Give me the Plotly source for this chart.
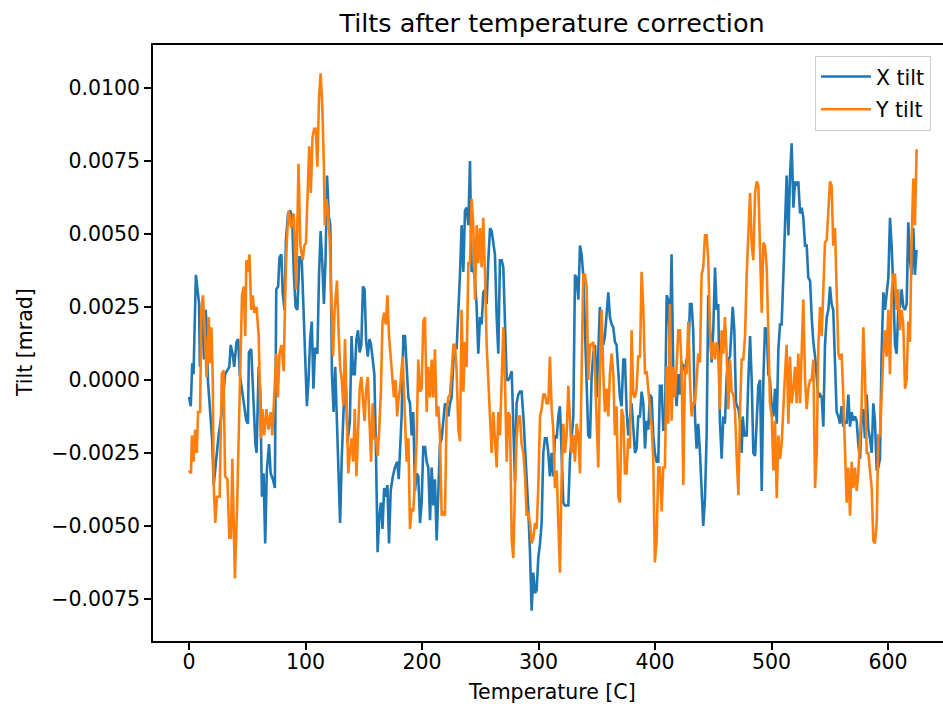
import plotly.graph_objects as go

# ---------------- data ----------------
x_temp = [0, 1.5, 2.8, 3.9, 5.9, 8.7, 9.3, 10.1, 11.5, 12.9, 14.3, 15.1, 16.2, 18.4, 19.8, 21.2, 23.5, 25.4, 28.2, 31,
          34.6, 35.8, 37.4, 38.8, 40.8, 42.2, 43.6, 46.4, 49.2, 50.6, 51.4, 53.4, 55.3, 57, 58, 59.8, 61.2, 62.6, 64, 65.4,
          66.8, 68.7, 70.1, 72, 73.7, 74.9, 76.5, 77.7, 79.3, 80.4, 82, 83.2, 85, 86.9, 88.5, 90, 91.5, 93, 94.8, 96.7,
          98.4, 99.8, 101.2, 102.6, 104, 105.4, 106.8, 108.2, 110.2, 111.6, 113, 114.4, 115.8, 117.2, 118.5, 120, 121.3, 122.7, 124.1, 125.5,
          126.9, 128.3, 129.7, 131.1, 133.1, 134.8, 136.2, 138.1, 139.5, 140.9, 142.3, 143.7, 145.1, 146.5, 147.9, 149.3, 150.7, 152.1, 153.5, 154.9,
          156.3, 157.7, 159.1, 160.5, 161.9, 163.3, 164.7, 166.1, 167.5, 168.9, 170.3, 171.7, 173.1, 175, 176.7, 178.7, 180, 182.5, 184, 185.4,
          186.8, 188.3, 189.7, 191.1, 192.5, 194, 195.4, 196.8, 198.3, 199.7, 201.1, 202.6, 204, 205.4, 206.9, 208.3, 209.7, 211.1, 212.6, 214,
          215.4, 216.9, 218.3, 219.7, 221.2, 222.6, 224, 225.4, 226.9, 228.3, 229.7, 231.2, 232.6, 234, 235.5, 236.9, 238.3, 239.8, 241.2, 242.6,
          244, 245.5, 246.9, 248.3, 249.8, 251.2, 252.6, 254.1, 255.5, 256.9, 258.4, 259.8, 261.2, 262.6, 264.1, 265.5, 266.9, 268.4, 269.8, 271.2,
          272.7, 274.1, 275.5, 277, 278.4, 279.8, 281.2, 282.7, 284.1, 285.5, 287, 288.4, 289.8, 291.2, 292.7, 294.1, 295.5, 297, 298.4, 299.8,
          301.3, 302.7, 304.1, 305.5, 307, 308.4, 309.8, 311.3, 312.7, 314.1, 315.6, 317, 318.4, 319.8, 321.3, 322.7, 324.1, 325.6, 327, 328.4,
          329.9, 331.3, 332.7, 334.2, 335.6, 337, 338.4, 339.9, 341.3, 342.7, 344.2, 345.6, 347, 348.5, 349.9, 351.3, 352.7, 354.2, 355.6, 357,
          358.5, 359.9, 361.3, 362.8, 364.2, 365.6, 367, 368.5, 369.9, 371.3, 372.8, 374.2, 375.6, 377, 378.5, 379.9, 381.3, 382.8, 384.2, 385.6,
          387.1, 388.5, 390, 391.4, 392.8, 394.2, 395.7, 397.1, 398.5, 399.9, 401.4, 402.8, 404.2, 405.7, 407.1, 408.5, 410, 411.4, 412.8, 414.2,
          415.7, 417.1, 418.5, 420, 421.4, 422.8, 424.3, 425.7, 427.1, 428.6, 430, 431.4, 432.8, 434.3, 435.7, 437.1, 438.6, 440, 441.4, 442.9,
          444.3, 445.7, 447.2, 448.6, 450, 451.5, 452.9, 454.3, 455.7, 457.2, 458.6, 460, 461.5, 462.9, 464.4, 466.7, 468.1, 469.5, 471.6, 473,
          474.4, 475.3, 476.7, 478.7, 480.1, 481.6, 483, 484.4, 485.9, 487.3, 488.7, 490.2, 491.6, 493, 494.4, 495.9, 497.3, 498.7, 500.2, 501.6,
          503, 504.5, 505.9, 507.3, 508.7, 510.2, 511.6, 513, 514.5, 515.9, 517.3, 518.8, 520.2, 521.6, 523, 524.5, 525.9, 527.3, 528.8, 530.2,
          531.6, 533.1, 534.5, 535.9, 537.4, 538.8, 540.2, 541.7, 543.1, 544.5, 545.9, 547.4, 548.8, 550.2, 551.6, 553, 554.5, 555.9, 557.4, 558.8,
          560.2, 561.6, 563.1, 564.5, 565.9, 567.4, 568.8, 570.2, 571.7, 573.1, 574.5, 576, 577.4, 578.8, 580.2, 581.7, 583.1, 584.5, 586, 587.4,
          588.8, 590.3, 591.7, 593.1, 594.5, 596, 597.4, 598.8, 600.3, 601.7, 603.1, 604.6, 606, 607.4, 608.8, 610.3, 611.7, 613.1, 614.6, 616,
          617.4, 618.8, 620.3, 621.7, 623.1, 624.5]
x_tilt = [-0.00058, -0.0009, 0.00057, 0.0002, 0.0036, 0.0026, 0.00045, 0.0024, 0.00215, 0.0007, 0.0024, 0.0019, 0.0, -0.0013, -0.002, -0.0036, -0.0025, -0.0019, -0.0011, 0.0002,
          0.00045, 0.0012, 0.0009, 0.00045, 0.0013, 0.0014, 0.0002, -0.00064, -0.0014, -0.0015, 0.00094, 0.00106, -0.00064, -0.0022, -0.0025, 0.00045, -0.0004, -0.004, -0.0032, -0.0056,
          -0.0031, -0.0022, -0.0032, -0.0034, -0.0037, 0.0031, 0.0032, 0.0042, 0.0043, 0.003, 0.0024, 0.0048, 0.0057, 0.0058, 0.0056, 0.0036, 0.0025, 0.0024, 0.0042, 0.0042,
          0.0023, 0.0007, -0.0009, 0.0, 0.0014, 0.002, -0.0003, 0.0011, 0.0009, 0.0036, 0.0051, 0.004, 0.0026, 0.0041, 0.007, 0.0056, 0.0053, 0.0002, -0.0011, 0.00045,
          -0.0011, -0.003, -0.0049, -0.0027, -0.0006, -0.0003, -0.0021, -0.0014, 0.0015, 0.0002, 0.0002, 0.0014, 0.0017, 0.00094, 0.0012, 0.0032, 0.0031, 0.0013, 0.0008, 0.0014,
          0.0012, 0.0007, 0.0002, -0.0025, -0.0059, -0.0047, -0.0042, -0.0051, -0.0037, -0.004, -0.0036, -0.0056, -0.0038, -0.0033, -0.003, -0.0028, -0.0034, -0.00125, 0.0015, 0.0015,
          0.0002, -0.0006, -0.0008, -0.0019, -0.0011, -0.0038, -0.0032, -0.0033, -0.0049, -0.0042, -0.0023, -0.0023, -0.0028, -0.003, -0.0048, -0.003, -0.0043, -0.0034, -0.0055, -0.0034,
          -0.0022, -0.002, -0.0015, -0.0008, -0.0009, -0.00125, -0.0008, -0.0006, 0.0006, 0.0012, 0.00105, 0.00215, 0.0036, 0.0053, 0.0037, 0.0058, 0.0059, 0.0053, 0.0075, 0.0037,
          0.00385, 0.0034, 0.0025, 0.0009, 0.00215, 0.0019, 0.003, 0.0031, 0.0026, 0.0041, 0.0052, 0.0051, 0.0047, 0.0043, 0.00215, 0.0009, 0.0041, 0.0041, 0.00385, 0.00215,
          0.0, 0.0, 0.0001, 0.0003, -0.00125, -0.0035, -0.0008, -0.0005, -0.0004, -0.0004, -0.00125, -0.0022, -0.0031, -0.0044, -0.0059, -0.0079, -0.0066, -0.0073, -0.0072, -0.0061,
          -0.0056, -0.0049, -0.0025, -0.002, -0.002, -0.0025, -0.0033, -0.0025, -0.0033, -0.0019, -0.002, -0.00125, -0.0009, -0.0025, -0.0042, -0.0043, -0.0043, -0.0043, -0.0027, -0.0019,
          -0.00125, 0.0036, 0.0035, 0.00275, 0.0046, 0.0043, 0.0036, 0.0017, 0.0, -0.0019, -0.002, 0.0001, 0.0009, 0.0012, -0.0006, 0.0009, 0.0025, 0.0017, 0.0012, 0.0015,
          0.00215, 0.003, 0.00215, 0.0019, 0.0018, 0.0013, 0.0012, 0.0002, -0.0006, -0.0009, 0.0007, 0.0007, -0.001, -0.0019, -0.00125, -0.0008, -0.0016, -0.0025, -0.00235, -0.00125,
          -0.00125, -0.0004, -0.0008, -0.00235, -0.0014, -0.0017, -0.0005, -0.0006, -0.0019, -0.0025, -0.0028, -0.0028, -0.0002, -0.0002, -0.0017, -0.0017, 0.0029, 0.00275, 0.00105, 0.0043,
          0.0002, 0.0, -0.0009, 0.0002, -0.0005, 0.0006, 0.00045, 0.0003, 0.0007, 0.0008, 0.0026, 0.0026, 0.0017, -0.00125, -0.00235, -0.0015, -0.0025, -0.0039, -0.005, -0.00405,
          -0.0019, 0.0029, 0.0019, 0.0006, 0.0017, 0.00385, 0.0024, 0.0026, -0.0014, -0.0027, -0.00125, -0.0015, 0.0001, 0.0007, 0.0008, 0.0025, 0.0017, -0.0008, -0.001, -0.0014,
          -0.0025, -0.00125, -0.0019, -0.0019, 0.0, 0.0015, 0.0, -0.0025, -0.0026, -0.00125, -0.0002, 0.0, -0.0038, 0.0, 0.0018, 0.0017, 0.0002, 0.0, -0.001, -0.00125,
          -0.0003, -0.0015, 0.00105, 0.0019, 0.0019, 0.0036, 0.0051, 0.007, 0.00495, 0.007, 0.0081, 0.0059, 0.0068, 0.00665, 0.0068, 0.0057, 0.0059, 0.00555, 0.0046, 0.0046,
          0.0035, 0.0034, 0.00215, 0.0013, 0.0008, 0.0, -0.0006, -0.0005, -0.0006, -0.0016, 0.0012, 0.00215, 0.0024, 0.0032, 0.0026, 0.0024, 0.0006, -0.0011, -0.00125, -0.0015,
          -0.0009, -0.0016, -0.0014, -0.0015, -0.0005, -0.0016, -0.0011, -0.0014, -0.00125, -0.0014, -0.0022, -0.0027, -0.00125, -0.001, -0.002, -0.0005, -0.0017, -0.002, -0.0025, -0.0008,
          -0.0014, -0.0031, -0.003, -0.0027, 0.0009, 0.003, 0.0024, 0.003, 0.0035, 0.00555, 0.0046, 0.0031, 0.0012, 0.0009, 0.0024, 0.0025, 0.0031, 0.0025, 0.0024, 0.0026,
          0.0054, 0.0041, 0.0036, 0.0052, 0.0036, 0.00445]

y_temp = [0, 1.7, 2.5, 3.9, 5.3, 6.7, 7.8, 9.5, 10.6, 12, 13.4, 15.1, 17, 17.9, 19.3, 20.4, 21.2, 22.6, 24, 26.3,
          28.2, 29.6, 31, 33, 34.6, 36, 37.2, 39.4, 41.3, 43.6, 45.5, 47, 48.3, 49.2, 50.6, 51.9, 53.4, 54.7, 56.1, 58,
          59.8, 61.7, 63, 64.5, 66.5, 68.2, 70.1, 71.5, 73.5, 74.9, 76.3, 77.7, 79.3, 81.3, 82.7, 84, 85.5, 87.8, 90, 92,
          94, 95.6, 97.6, 99, 100.4, 101.8, 103.2, 104.6, 106, 107.4, 108.8, 110.2, 111.6, 113, 114.4, 115.8, 116.6, 118, 119.4, 120.8,
          122.2, 123.6, 125, 127, 128.3, 129.7, 131.1, 132.5, 133.9, 135.3, 136.7, 138.1, 139.5, 140.9, 142.3, 143.7, 145.1, 146.5, 147.9, 149.3,
          150.7, 152.1, 153.5, 154.9, 156.3, 157.7, 159.1, 160.5, 161.9, 163.3, 164.7, 166.1, 167.5, 168.9, 170.3, 171.7, 173.1, 174.5, 175.9, 177.3,
          178.7, 180, 181.1, 183.4, 185.4, 186.8, 188.3, 189.7, 191.1, 192.5, 194, 195.4, 196.8, 198.3, 199.7, 201.1, 202.6, 204, 205.4, 206.9,
          208.3, 209.7, 211.1, 212.6, 214, 215.4, 216.9, 218.3, 219.7, 221.2, 222.6, 224, 225.4, 226.9, 228.3, 229.7, 231.2, 232.6, 234, 235.5,
          236.9, 238.3, 239.8, 241.2, 242.6, 244, 245.5, 246.9, 248.3, 249.8, 251.2, 252.6, 254.1, 255.5, 256.9, 258.4, 259.8, 261.2, 262.6, 264.1,
          265.5, 266.9, 268.4, 269.8, 271.2, 272.7, 274.1, 275.5, 277, 278.4, 279.8, 281.2, 282.7, 284.1, 285.5, 287, 288.4, 289.8, 291.2, 292.7,
          294.1, 295.5, 297, 298.4, 299.8, 301.3, 302.7, 304.1, 305.5, 307, 308.4, 309.8, 311.3, 312.7, 314.1, 315.6, 317, 318.4, 319.8, 321.3,
          322.7, 324.1, 325.6, 327, 328.4, 329.9, 331.3, 332.7, 334.2, 335.6, 337, 338.4, 339.9, 341.3, 342.7, 344.2, 345.6, 347, 348.5, 349.9,
          351.3, 352.7, 354.2, 355.6, 357, 358.5, 359.9, 361.3, 362.8, 364.2, 365.6, 367, 368.5, 369.9, 371.3, 372.8, 374.2, 375.6, 377, 378.5,
          379.9, 381.3, 382.8, 384.2, 385.6, 387.1, 388.5, 390, 391.4, 392.8, 394.2, 395.7, 397.1, 398.5, 399.9, 401.4, 402.8, 404.2, 405.7, 407.1,
          408.5, 410, 411.4, 412.8, 414.2, 415.7, 417.1, 418.5, 420, 421.4, 422.8, 424.3, 425.7, 427.1, 428.6, 430, 431.4, 432.8, 434.3, 435.7,
          437.1, 438.6, 440, 441.4, 442.9, 444.3, 445.7, 447.2, 448.6, 450, 451.5, 452.9, 454.3, 455.7, 457.2, 458.6, 460, 461.5, 462.9, 464.4,
          465.8, 467.3, 468.7, 470.1, 471.6, 473, 474.4, 475.8, 477.3, 478.7, 480.1, 481.6, 483, 484.4, 485.9, 487.3, 488.7, 490.2, 491.6, 493,
          494.4, 495.9, 497.3, 498.7, 500.2, 501.6, 503, 504.5, 505.9, 507.3, 508.7, 510.2, 511.6, 513, 514.5, 515.9, 517.3, 518.8, 520.2, 521.6,
          523, 524.5, 525.9, 527.3, 528.8, 530.2, 531.6, 533.1, 534.5, 535.9, 537.4, 538.8, 540.2, 541.7, 543.1, 544.5, 545.9, 547.4, 548.8, 550.2,
          551.6, 553, 554.5, 555.9, 557.4, 558.8, 560.2, 561.6, 563.1, 564.5, 565.9, 567.4, 568.8, 570.2, 571.7, 573.1, 574.5, 576, 577.4, 578.8,
          580.2, 581.7, 583.1, 584.5, 586, 587.4, 588.8, 590.3, 591.7, 593.1, 594.5, 596, 597.4, 598.8, 600.3, 601.7, 603.1, 604.6, 606, 607.4,
          608.8, 610.3, 611.7, 613.1, 614.6, 616, 617.4, 618.8, 620.3, 621.7, 623.1, 624.6]
y_tilt = [-0.0031, -0.0032, -0.0019, -0.0028, -0.0017, -0.0025, -0.0011, -0.0011, 0.0024, 0.0029, 0.0018, 0.0001, 0.00215, 0.00057, 0.0018, 0.0, -0.0036, -0.0049, -0.004, -0.004,
          0.0002, 0.00033, -0.0033, -0.0034, -0.0054, -0.0054, -0.0027, -0.0068, -0.0043, -0.0004, 0.0029, 0.0032, 0.0015, 0.0041, 0.0037, 0.0043, 0.0024, 0.0029, 0.0023, 0.0025,
          0.0015, -0.002, -0.001, -0.0019, -0.001, -0.0017, -0.0011, -0.0019, 0.0001, 0.0009, -0.0006, 0.0009, 0.0012, 0.0003, 0.0032, 0.0048, 0.0058, 0.0052, 0.0057, 0.0031,
          0.0074, 0.0046, 0.0041, 0.0046, 0.0047, 0.0063, 0.008, 0.0064, 0.0083, 0.0086, 0.0086, 0.0073, 0.0097, 0.0105, 0.0094, 0.0073, 0.0053, 0.0062, 0.0057, 0.0048,
          0.003, 0.0008, 0.0024, 0.0034, 0.0018, 0.00045, 0.0, -0.0009, 0.0014, -0.0008, -0.0032, -0.0025, -0.002, -0.0028, -0.001, -0.0033, -0.0017, -0.0003, 0.0001, -0.0006,
          -0.0014, -0.0003, 0.0001, -0.0014, -0.0028, -0.0008, -0.002, -0.002, -0.0026, -0.0017, -0.0004, 0.002, 0.0023, 0.0019, 0.0029, 0.0015, 0.0007, 0.0, -0.0006, 0.0,
          -0.00125, -0.0006, -0.0003, 0.0008, -0.00125, -0.0028, -0.002, -0.0051, -0.0044, -0.0045, -0.0034, -0.002, 0.0007, -0.0004, -0.0003, 0.002, 0.00215, -0.0011, 0.00045, -0.0006,
          0.0007, -0.0006, 0.00105, -0.00125, -0.0009, -0.0019, -0.00465, -0.0045, -0.00465, -0.001, -0.0006, -0.0005, 0.0002, 0.0012, 0.0012, 0.0003, -0.0017, -0.0021, 0.0024, -0.0004,
          0.0013, 0.00045, 0.004, 0.004, 0.0062, 0.0053, 0.00275, 0.0053, 0.004, 0.0052, 0.00385, 0.00555, 0.0036, 0.0012, 0.0, -0.00125, -0.0025, -0.0011, -0.0021, -0.003,
          -0.0011, -0.0019, 0.0, 0.0018, 0.0, -0.0028, -0.0011, -0.00125, -0.0055, -0.0061, -0.0037, -0.002, -0.00125, -0.00125, -0.0022, -0.0025, -0.0033, -0.00465, -0.0045, -0.0049,
          -0.0056, -0.0054, -0.0049, -0.0051, -0.0037, -0.00125, -0.001, -0.0005, -0.0005, -0.0008, -0.0008, 0.0008, -0.001, -0.0017, -0.0037, -0.0031, -0.0049, -0.0066, -0.0034, -0.0015,
          -0.0025, -0.0019, -0.0002, -0.0015, -0.0025, -0.0019, -0.0028, -0.0015, -0.0019, -0.0032, 0.0012, 0.0036, 0.0036, 0.0032, 0.0, 0.0012, 0.0012, 0.0013, 0.0002, -0.00125,
          -0.003, 0.0002, 0.0024, 0.0002, -0.0011, -0.0003, -0.00125, 0.0002, 0.0009, 0.0002, -0.0019, -0.0009, -0.004, -0.0042, -0.001, -0.00125, -0.0032, -0.0032, -0.002, -0.00235,
          0.0017, -0.0005, -0.0006, -0.0003, 0.0008, 0.0008, 0.0037, 0.0024, 0.0002, 0.0003, -0.0004, -0.0009, -0.0016, -0.0027, -0.00625, -0.0055, -0.003, -0.003, -0.0045, -0.003,
          -0.003, 0.00045, -0.0015, 0.0026, -0.0014, 0.00045, -0.0006, 0.00045, 0.0017, 0.0017, 0.00045, -0.0036, 0.00045, 0.0002, 0.002, 0.0, -0.00125, -0.0008, -0.0008, 0.0,
          0.0009, 0.0006, 0.0036, 0.00385, 0.00495, 0.00495, 0.0041, 0.0017, 0.0007, 0.0013, 0.0007, 0.0013, 0.0009, -0.001, 0.0017, 0.0009, 0.00215, 0.0009, -0.001, 0.0007,
          -0.0004, -0.0005, -0.0011, -0.0026, -0.00395, -0.001, 0.0007, 0.0007, 0.0015, 0.0036, 0.0051, 0.0064, 0.0046, 0.0041, 0.0064, 0.0068, 0.00665, 0.0048, 0.0023, 0.0047,
          0.0046, 0.00385, 0.0019, -0.0008, -0.00125, -0.0031, -0.0014, -0.00405, -0.0019, -0.0027, -0.0022, -0.0008, 0.0002, 0.0012, -0.0015, 0.0008, -0.0008, -0.0003, 0.00045, -0.0008,
          0.0009, -0.0008, 0.0014, 0.00275, 0.0, -0.001, -0.0003, 0.0, 0.0, 0.0007, -0.0037, -0.0025, 0.0012, 0.0025, 0.0015, 0.0034, 0.0047, 0.0048, 0.0058, 0.0068,
          0.00665, 0.0046, 0.0052, 0.0031, 0.0009, 0.0007, 0.0009, -0.0005, -0.00235, -0.0042, -0.003, -0.00465, -0.0028, -0.0037, -0.003, -0.0038, -0.0032, -0.002, -0.0008, 0.0018,
          0.0002, -0.0025, -0.0025, -0.0031, -0.0037, -0.0055, -0.0056, -0.0049, -0.0019, -0.0019, -0.0005, 0.0009, 0.0017, 0.0008, 0.0024, 0.0002, 0.003, 0.0036, 0.0036, 0.0024,
          0.0031, 0.0017, 0.0024, 0.0019, -0.0003, 0.0, 0.002, 0.0013, 0.0048, 0.0069, 0.0053, 0.0079]

y_ticks = [-0.0075, -0.0050, -0.0025, 0.0, 0.0025, 0.0050, 0.0075, 0.0100]
x_ticks = [0, 100, 200, 300, 400, 500, 600]

FONT = "DejaVu Sans"

fig = go.Figure()
fig.add_trace(go.Scatter(x=x_temp, y=x_tilt, mode="lines", name="X tilt", legendgroup="a",
                         line=dict(color="#1f77b4", width=2.6)))
fig.add_trace(go.Scatter(x=y_temp, y=y_tilt, mode="lines", name="Y tilt", legendgroup="b",
                         line=dict(color="#ff7f0e", width=2.6)))

fig.update_layout(
    width=943, height=710,
    margin=dict(l=153, r=0, t=45, b=69, pad=0),
    paper_bgcolor="white", plot_bgcolor="white",
    font=dict(family=FONT, size=20.5, color="black"),
    title=dict(text="Tilts after temperature correction", font=dict(size=25.5, family=FONT, color="black"),
               xref="container", x=0.5854, xanchor="center", yref="container", y=0.968, yanchor="middle"),
    showlegend=True,
    legend=dict(x=0.838, y=0.982, xanchor="left", yanchor="top", bgcolor="rgba(255,255,255,0.8)",
                bordercolor="#cccccc", borderwidth=1, font=dict(size=20.5, family=FONT),
                tracegroupgap=3, itemwidth=50),
    xaxis=dict(range=[-30.9, 647.2], tickvals=x_ticks, showgrid=False, zeroline=False,
               showline=True, linecolor="black", linewidth=1.5, mirror=True,
               ticks="outside", ticklen=7, tickwidth=1.5, tickcolor="black", ticklabelstandoff=-5,
               tickfont=dict(size=20.5, family=FONT, color="black")),
    yaxis=dict(range=[-0.00894, 0.01147], tickvals=y_ticks, tickformat=".4f", showgrid=False, zeroline=False,
               showline=True, linecolor="black", linewidth=1.5,
               ticks="outside", ticklen=7, tickwidth=1.5, tickcolor="black",
               tickfont=dict(size=20.5, family=FONT, color="black")),
    annotations=[
        dict(text="Temperature [C]", xref="paper", yref="paper", x=0.505, y=-0.0856,
             xanchor="center", yanchor="middle", showarrow=False, font=dict(size=20.5, family=FONT, color="black")),
        dict(text="Tilt [mrad]", xref="paper", yref="paper", x=-0.162, y=0.5, textangle=-90,
             xanchor="center", yanchor="middle", showarrow=False, font=dict(size=20.5, family=FONT, color="black")),
    ],
)

fig.write_html("out.html")
